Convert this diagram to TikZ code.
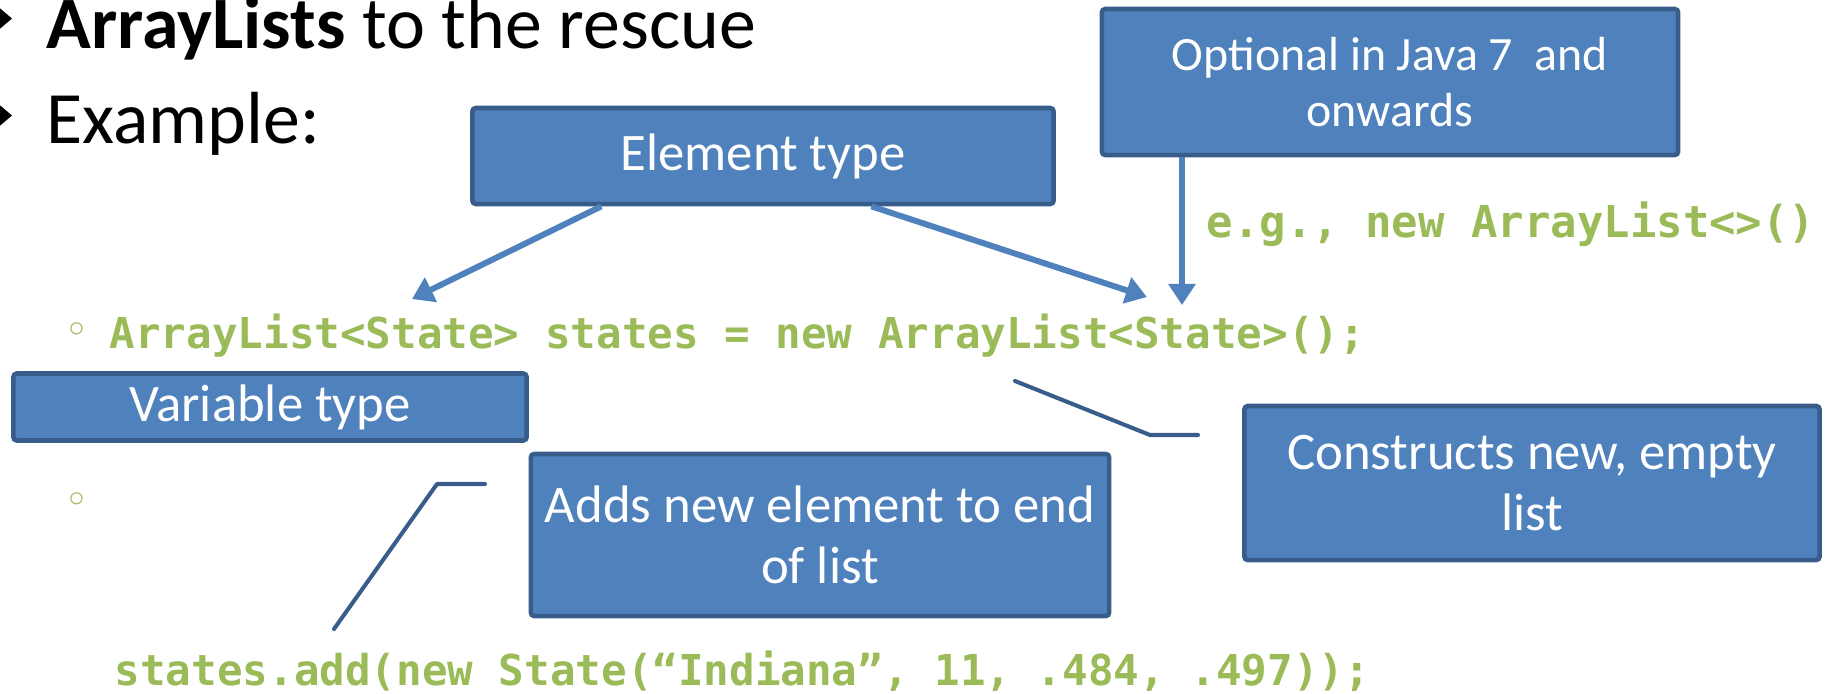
\documentclass[tikz,border=0pt]{standalone}
\usepackage{fontspec}
\setmainfont{Carlito}
\newfontfamily\codefont{DejaVu Sans Mono}
\newfontfamily\symfont{DejaVu Sans}
\usetikzlibrary{arrows.meta,calc}
\definecolor{boxfill}{HTML}{4F81BD}
\definecolor{boxedge}{HTML}{385D8A}
\definecolor{codegreen}{HTML}{9BBB59}
\begin{document}
\begin{tikzpicture}[x=0.01cm,y=-0.01cm,
    callout/.style={draw=boxedge,fill=boxfill,line width=1.3pt,rounded corners=1pt,
      text=white,align=center,inner sep=0pt,font=\fontsize{15pt}{17.5pt}\selectfont},
    code/.style={text=codegreen,inner sep=0pt,anchor=base west,
      font=\codefont\bfseries\fontsize{12.1pt}{14pt}\selectfont},
    heading/.style={inner sep=0pt,anchor=base west,font=\fontsize{21pt}{25pt}\selectfont},
    subdot/.style={text=codegreen,inner sep=0pt,font=\symfont\fontsize{12pt}{13pt}\selectfont},
    pointer/.style={draw=boxfill,line width=1.7pt,-{Triangle[length=6pt,width=7.5pt]}},
    leader/.style={draw=boxedge,line width=1.15pt,line cap=round,line join=round}]
  \useasboundingbox (0,0) rectangle (1826,693);

  % slide bullets
  \draw[line width=2.2pt] (-4,10) -- (6,18.5) -- (-4,27);
  \draw[line width=2.2pt] (-4,107) -- (6,115.5) -- (-4,124);
  \node[heading] (title) at (46,48) {\textbf{ArrayLists} to the rescue};
  \node[heading] (example) at (46,143) {Example:};

  % code lines
  \node[subdot] (dotA) at (77,334) {◦};
  \node[code] (codeA) at (109,348) {ArrayList<State> states = new ArrayList<State>();};
  \node[subdot] (dotB) at (77,504) {◦};
  \node[code] (codeB) at (114,685) {states.add(new State(“Indiana”, 11, .484, .497));};
  \node[code,font=\codefont\bfseries\fontsize{12.5pt}{14pt}\selectfont] (eg) at (1206,237)
        {e.g., new ArrayList<>()};

  % callout boxes
  \node[callout,minimum width=5.81cm,minimum height=0.96cm] (eltype) at (763,156) {Element type};
  \node[callout,minimum width=5.76cm,minimum height=1.46cm,
        font=\fontsize{13.6pt}{15.8pt}\selectfont] (optional) at (1390,82)
        {Optional in Java 7~~and\\onwards};
  \node[callout,minimum width=5.13cm,minimum height=0.67cm] (vartype) at (270,407) {Variable type};
  \node[callout,minimum width=5.75cm,minimum height=1.54cm] (ctor) at (1532,483)
        {Constructs new, empty\\list};
  \node[callout,minimum width=5.78cm,minimum height=1.62cm] (adds) at (820,535)
        {Adds new element to end\\of list};

  % pointers
  \coordinate (typetip) at (412,299);
  \coordinate (ctortip) at (1147,297);
  \coordinate (egtip) at (1182,305);
  \draw[pointer] ($(eltype.south west)!0.224!(eltype.south east)$) -- (typetip);
  \draw[pointer] ($(eltype.south west)!0.685!(eltype.south east)$) -- (ctortip);
  \draw[pointer] (optional.south -| egtip) -- (egtip);

  % leader lines
  \coordinate (ctorA) at (1015,381);
  \coordinate (ctorB) at (1150,435);
  \coordinate (ctorC) at (1198,435);
  \draw[leader] (ctorA) -- (ctorB) -- (ctorC);
  \coordinate (addsA) at (334,629);
  \coordinate (addsB) at (437,484);
  \coordinate (addsC) at (485,484);
  \draw[leader] (addsA) -- (addsB) -- (addsC);
\end{tikzpicture}
\end{document}
